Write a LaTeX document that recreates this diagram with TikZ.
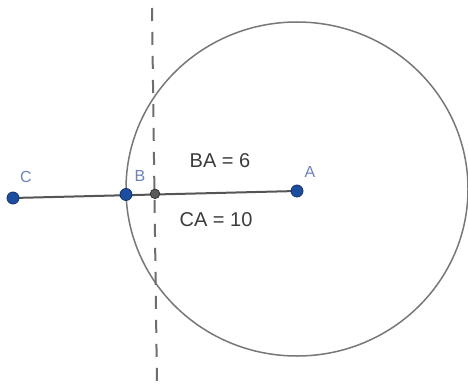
\documentclass[tikz,border=0pt]{standalone}
\usepackage{fontspec}
\setmainfont{Liberation Sans}
\begin{document}
\begin{tikzpicture}[x=1pt,y=-1pt,
  pt/.style={circle,fill=ptblue,draw=ptedge,line width=0.8pt,inner sep=0pt,minimum size=12pt},
  midpt/.style={circle,fill=midgrey,draw=black!80,line width=0.8pt,inner sep=0pt,minimum size=9.5pt},
  ptlabel/.style={text=lblblue,font=\fontsize{16}{18}\selectfont,inner sep=0pt},
  meas/.style={text=txtgrey,font=\fontsize{20}{22}\selectfont,inner sep=0pt},
  seg/.style={draw=seggrey,line width=2pt},
  circ/.style={draw=circgrey,line width=1.5pt},
  dline/.style={draw=dashgrey,line width=2pt,dash pattern=on 13pt off 11pt}]
\definecolor{ptblue}{RGB}{28,78,160}
\definecolor{ptedge}{RGB}{20,50,110}
\definecolor{midgrey}{RGB}{90,90,90}
\definecolor{lblblue}{RGB}{110,130,190}
\definecolor{txtgrey}{RGB}{60,60,60}
\definecolor{seggrey}{RGB}{85,85,85}
\definecolor{circgrey}{RGB}{120,120,120}
\definecolor{dashgrey}{RGB}{110,110,110}
\useasboundingbox[fill=white] (0,0) rectangle (468,385);
% circle centred at A
\coordinate (O) at (297,189);
\draw[circ] (O) ellipse [x radius=171, y radius=167];
% dashed line
\coordinate (dtop) at (152,8);
\coordinate (dbot) at (157,386);
\draw[dline] (dtop) -- (dbot);
% points
\coordinate (Cc) at (13,198);
\coordinate (Ac) at (297,191);
\coordinate (Bc) at (126,194.5);
\coordinate (Mc) at (155,193.8);
\draw[seg] (Cc) -- (Ac);
\node[pt] (C) at (Cc) {};
\node[pt] (A) at (Ac) {};
\node[pt] (B) at (Bc) {};
\node[midpt] (M) at (Mc) {};
% labels
\node[ptlabel] (lC) at (26,177) {C};
\node[ptlabel] (lB) at (140,176) {B};
\node[ptlabel] (lA) at (310,172) {A};
\node[meas] (BA) at (220,161) {BA = 6};
\node[meas] (CA) at (216,220) {CA = 10};
\end{tikzpicture}
\end{document}
